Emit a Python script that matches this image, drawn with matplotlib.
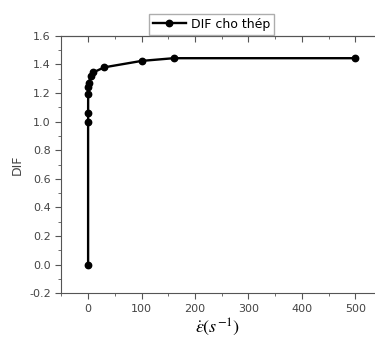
import numpy as np
import matplotlib.pyplot as plt
from matplotlib.ticker import MultipleLocator

plt.rcParams['mathtext.fontset'] = 'stix'

# strain rate (1/s) and dynamic increase factor
rate = [0, 0.001, 0.01, 0.1, 0.5, 1, 5, 10, 30, 100, 160, 500]
dif = [0.0, 1.0, 1.06, 1.19, 1.24, 1.27, 1.32, 1.345, 1.38, 1.425, 1.444, 1.444]

fig = plt.figure(figsize=(3.75, 3.42), dpi=100)
ax = fig.add_axes([0.163, 0.143, 0.835, 0.752])

ax.plot(rate, dif, 'k-', marker='o', ms=4.6, lw=1.7, label='DIF cho thép')

ax.set_xlim(-50.5, 535.5)
ax.set_ylim(-0.2, 1.6)
ax.xaxis.set_major_locator(MultipleLocator(100))
ax.xaxis.set_minor_locator(MultipleLocator(50))
ax.yaxis.set_major_locator(MultipleLocator(0.2))
ax.yaxis.set_minor_locator(MultipleLocator(0.1))
ax.yaxis.set_major_formatter(plt.FormatStrFormatter('%.1f'))

ax.tick_params(which='both', direction='out', labelsize=8, labelcolor='#444444', color='#555555')
ax.tick_params(which='major', length=4)
ax.tick_params(which='minor', length=2)
ax.spines['right'].set_visible(False)
for s in ['left', 'bottom', 'top']:
    ax.spines[s].set_color('#555555')

# top axis: ticks pointing inward, no labels
top = ax.secondary_xaxis('top')
top.xaxis.set_major_locator(MultipleLocator(100))
top.xaxis.set_minor_locator(MultipleLocator(50))
top.tick_params(which='both', direction='in', labeltop=False, color='#555555')
top.tick_params(which='major', length=4)
top.tick_params(which='minor', length=2)
top.spines['top'].set_color('#555555')

ax.set_ylabel('DIF', fontsize=9, color='#444444')
ax.set_xlabel(r'$\dot{\varepsilon}(s^{-1})$', fontsize=13, labelpad=2)
ax.legend(loc='lower center', bbox_to_anchor=(0.48, 1.005), fontsize=9, frameon=True,
          fancybox=False, edgecolor='#999999', borderpad=0.3, handlelength=2.6,
          handletextpad=0.4, borderaxespad=0)

plt.savefig('out.png')
